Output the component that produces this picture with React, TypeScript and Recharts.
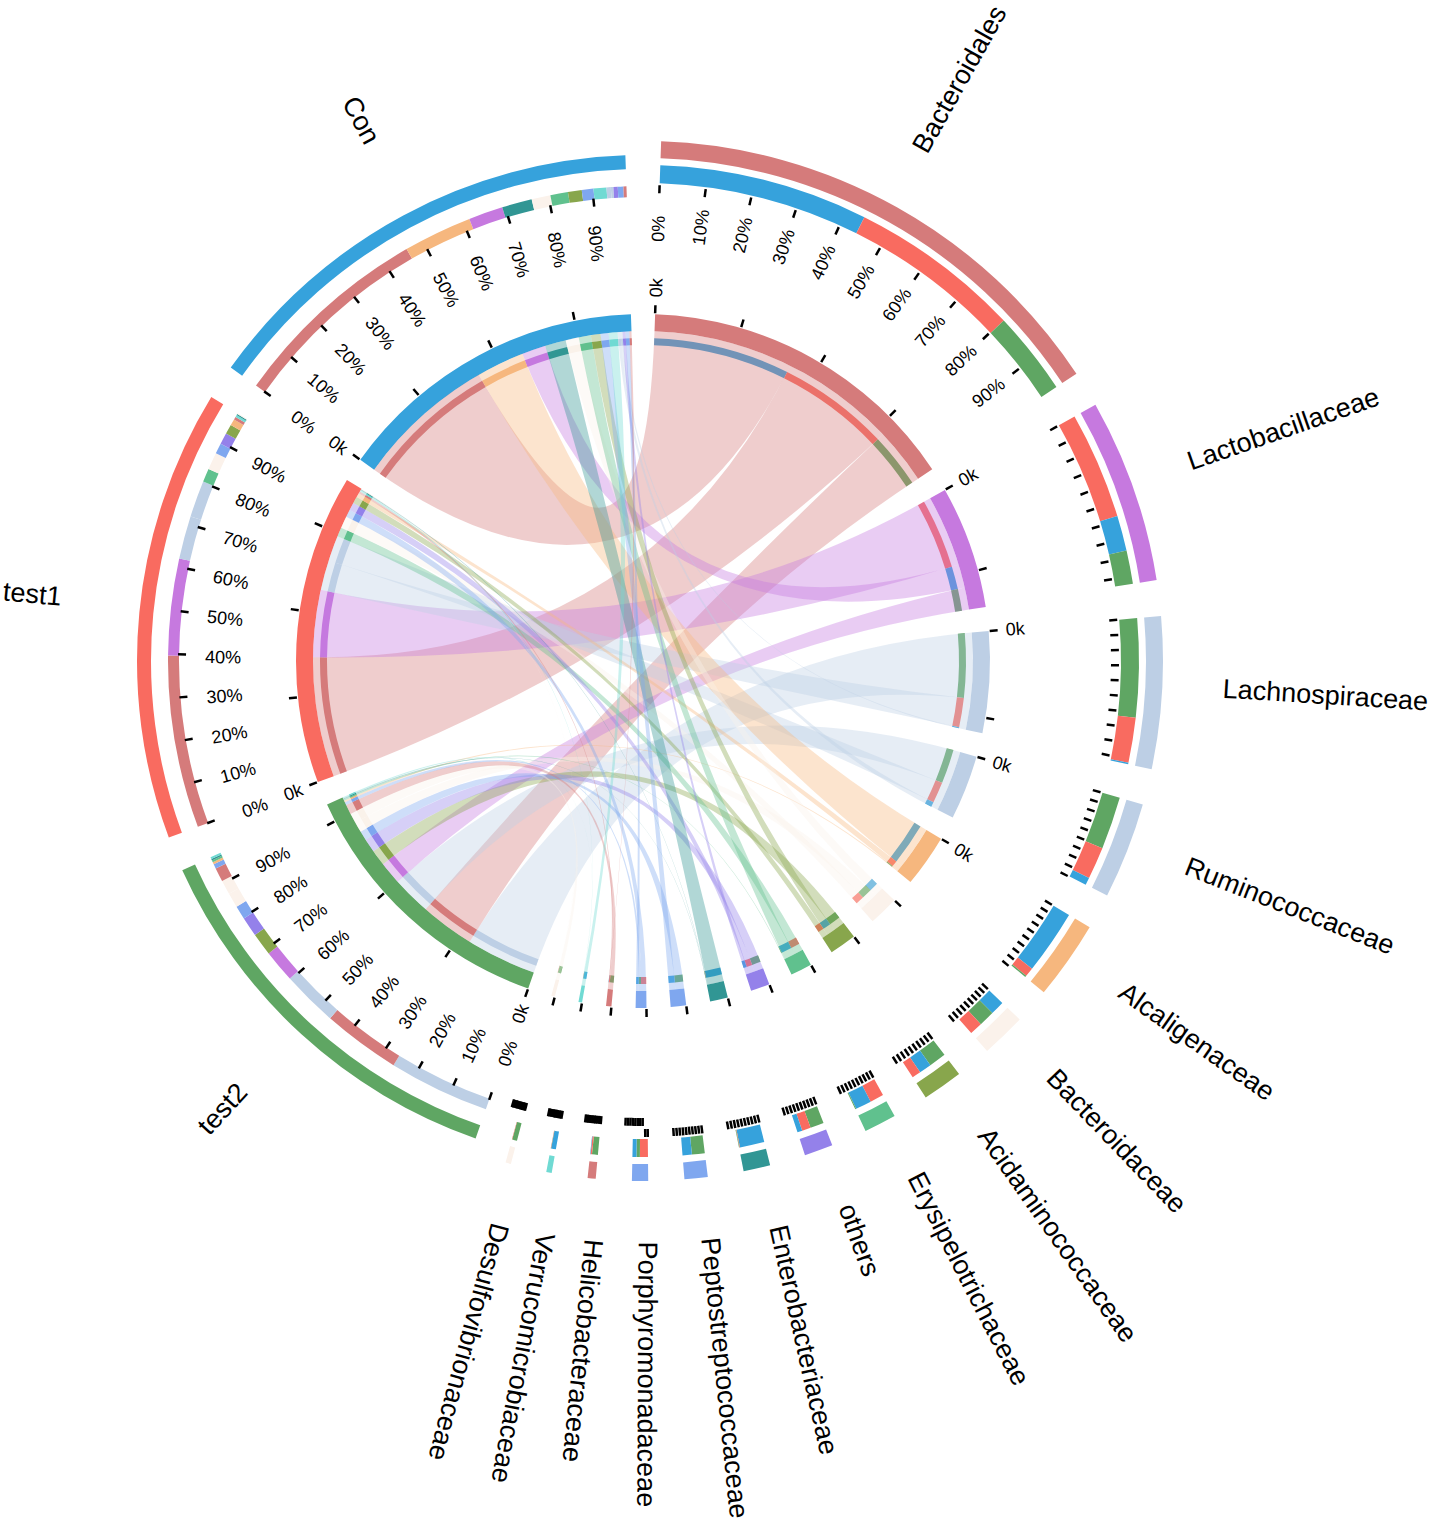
import React from "react";
import { PieChart, Pie } from "recharts";

const taxonNames = ["Bacteroidales","Lactobacillaceae","Lachnospiraceae","Ruminococcaceae","Alcaligenaceae","Bacteroidaceae","Acidaminococcaceae","Erysipelotrichaceae","others","Enterobacteriaceae","Peptostreptococcaceae","Porphyromonadaceae","Helicobacteraceae","Verrucomicrobiaceae","Desulfovibrionaceae"];
const taxonSizes = [3.785,1.43,1.18,0.75,0.61,0.347,0.3125,0.25,0.222,0.208,0.18,0.125,0.0625,0.042,0.042];
const taxonColors = ["#D57B7B","#C679DF","#BDCFE5","#BDCFE5","#F6B77E","#FBF2EB","#88A64C","#60C18E","#9481EA","#319694","#7FA7EF","#7FA7EF","#D57B7B","#70DAD3","#FBF2EB"];

const sampleNames = ["test2","test1","Con"];
const sampleSizes = [3.215,3.604,3.653];
const sampleColors = ["#5FA663","#F96B60","#36A2DC"];

const mixBacteroidales = [["Con",45],["test1",37],["test2",18]];
const mixLactobacillaceae = [["test1",61],["Con",20],["test2",19]];
const mixLachnospiraceae = [["test2",68],["test1",31],["Con",1]];
const mixRuminococcaceae = [["test2",57],["test1",35],["Con",8]];
const mixAlcaligenaceae = [["Con",86],["test1",12],["test2",2]];
const mixBacteroidaceae = [["Con",33],["test2",37],["test1",30]];
const mixAcidaminococcaceae = [["test2",45],["Con",32],["test1",23]];
const mixErysipelotrichaceae = [["test1",45],["Con",52],["test2",3]];
const mixOthers = [["test2",50],["test1",32],["Con",18]];
const mixEnterobacteriaceae = [["Con",96],["test1",2],["test2",2]];
const mixPeptostreptococcaceae = [["test2",58],["Con",42]];
const mixPorphyromonadaceae = [["test1",52],["test2",22],["Con",26]];
const mixHelicobacteraceae = [["test2",76],["test1",18],["Con",6]];
const mixVerrucomicrobiaceae = [["Con",92],["test2",4],["test1",4]];
const mixDesulfovibrionaceae = [["test2",94],["test1",6]];
const taxonMixes = [mixBacteroidales,mixLactobacillaceae,mixLachnospiraceae,mixRuminococcaceae,mixAlcaligenaceae,mixBacteroidaceae,mixAcidaminococcaceae,mixErysipelotrichaceae,mixOthers,mixEnterobacteriaceae,mixPeptostreptococcaceae,mixPorphyromonadaceae,mixHelicobacteraceae,mixVerrucomicrobiaceae,mixDesulfovibrionaceae];

const mixTest2 = [["Lachnospiraceae",26.8],["Bacteroidales",20.6],["Ruminococcaceae",14.8],["Lactobacillaceae",8.6],["Acidaminococcaceae",6],["others",5.2],["Peptostreptococcaceae",3.6],["Bacteroidaceae",3.9],["Desulfovibrionaceae",3.8],["Helicobacteraceae",3.7],["Porphyromonadaceae",1.2],["Alcaligenaceae",0.6],["Erysipelotrichaceae",0.5],["Enterobacteriaceae",0.4],["Verrucomicrobiaceae",0.5]];
const mixTest1 = [["Bacteroidales",41],["Lactobacillaceae",23],["Lachnospiraceae",10.2],["Ruminococcaceae",8.7],["Erysipelotrichaceae",3.2],["Bacteroidaceae",4.1],["Porphyromonadaceae",2.5],["others",2.7],["Acidaminococcaceae",2.3],["Alcaligenaceae",1.5],["Helicobacteraceae",0.7],["Verrucomicrobiaceae",0.5],["Enterobacteriaceae",0.3],["Desulfovibrionaceae",0.2]];
const mixCon = [["Bacteroidales",47],["Alcaligenaceae",16],["Lactobacillaceae",8],["Enterobacteriaceae",7],["Bacteroidaceae",4.4],["Erysipelotrichaceae",4.1],["Acidaminococcaceae",3.2],["Peptostreptococcaceae",2.7],["Verrucomicrobiaceae",3],["Ruminococcaceae",1],["Lachnospiraceae",0.6],["others",1],["Porphyromonadaceae",1.3],["Helicobacteraceae",0.7]];
const sampleMixes = [mixTest2,mixTest1,mixCon];

const percentLabels = ["0%","10%","20%","30%","40%","50%","60%","70%","80%","90%"];

const GAP = 4 / 14.4;
const FIRST = 2;
const CX = 643;
const CY = 661;
const FONT = "'Liberation Sans', Arial, sans-serif";
const colorOf: Record<string,string> = {};
taxonNames.forEach((n,i)=>{colorOf[n]=taxonColors[i];});
sampleNames.forEach((n,i)=>{colorOf[n]=sampleColors[i];});

type Sec = {name:string;size:number;color:string;mix:any[];isSample:boolean;a0:number;a1:number};
const secs: Sec[] = [
  ...taxonNames.map((name,i)=>({name,size:taxonSizes[i],color:taxonColors[i],mix:taxonMixes[i],isSample:false,a0:0,a1:0})),
  ...sampleNames.map((name,i)=>({name,size:sampleSizes[i],color:sampleColors[i],mix:sampleMixes[i],isSample:true,a0:0,a1:0})),
];
const unit = 360 / (secs.reduce((s,x)=>s+x.size,0) + GAP*secs.length);
{
  let a = FIRST;
  secs.forEach(s=>{ s.a0=a; s.a1=a+s.size*unit; a=s.a1+GAP*unit; });
}
const mixTotal = (s:Sec)=>s.mix.reduce((t:number,m:any)=>t+m[1],0);
const parts = (s:Sec)=>{
  const tot = mixTotal(s);
  return s.mix.map((m:any)=>({key:m[0],value:s.size*m[1]/tot,fill:colorOf[m[0]]}));
};
const segRange = (s:Sec,key:string)=>{
  const tot = mixTotal(s);
  let acc=0;
  for(const m of s.mix){
    const a=s.a0+(s.a1-s.a0)*acc/tot;
    acc+=m[1];
    const b=s.a0+(s.a1-s.a0)*acc/tot;
    if(m[0]===key) return [a,b];
  }
  return null;
};
const ring = (pick:(s:Sec)=>any[])=>secs.flatMap(s=>[...pick(s),{value:GAP,fill:"none"}]);
const blank = (s:Sec)=>[{value:s.size,fill:"none"}];

const bandAll = ring(s=>[{value:s.size,fill:s.color}]);
const thinAll = ring(parts);
const taxonBand = ring(s=>s.isSample?blank(s):[{value:s.size,fill:s.color}]);
const sampleBand = ring(s=>s.isSample?[{value:s.size,fill:s.color}]:blank(s));
const taxonStack = ring(s=>s.isSample?blank(s):parts(s));
const sampleStack = ring(s=>s.isSample?parts(s):blank(s));

const pol = (r:number,a:number)=>{
  const t=a*Math.PI/180;
  return [CX+r*Math.sin(t),CY-r*Math.cos(t)];
};
const R=330;
const ribbon=(s:number[],t:number[])=>{
  const p=(a:number)=>pol(R,a).map(v=>v.toFixed(2)).join(" ");
  return `M${p(s[0])}A${R} ${R} 0 0 1 ${p(s[1])}Q${CX} ${CY} ${p(t[0])}A${R} ${R} 0 0 1 ${p(t[1])}Q${CX} ${CY} ${p(s[0])}Z`;
};

const Chords = ()=>{
  const out:any[]=[];
  secs.filter(s=>s.isSample).forEach(s=>{
    s.mix.forEach((m:any)=>{
      const tx=secs.find(x=>x.name===m[0])!;
      const a=segRange(s,m[0]);
      const b=segRange(tx,s.name);
      if(a&&b) out.push(<path key={s.name+m[0]} d={ribbon(a,b)} fill={tx.color} fillOpacity={0.38} stroke="none"/>);
    });
  });
  return <g>{out}</g>;
};

const lineAt=(k:string,a:number,r0:number,r1:number)=>{
  const [x0,y0]=pol(r0,a);const [x1,y1]=pol(r1,a);
  return <line key={k} x1={x0} y1={y0} x2={x1} y2={y1} stroke="#000" strokeWidth={2.5}/>;
};
const radialText=(k:string,str:string,r:number,a:number,isSample:boolean,size:number,dy:number)=>{
  const [x,y]=pol(r,a);
  const rot=isSample?a-270:a-90;
  return <text key={k} x={x} y={y} dy={dy} textAnchor={isSample?"end":"start"} transform={`rotate(${rot} ${x} ${y})`} fontFamily={FONT} fontSize={size} fill="#000">{str}</text>;
};

const Annotations=()=>{
  const out:any[]=[];
  secs.forEach(s=>{
    const mid=(s.a0+s.a1)/2;
    for(let i=0;i<=Math.floor(s.size);i++){
      out.push(lineAt(`${s.name}k${i}`,s.a0+i*14.4,348,356));
    }
    if(s.size>=0.6) out.push(radialText(`${s.name}0k`,"0k",364,s.a0,s.isSample,18,s.isSample?7:6.3));
    const step=(s.a1-s.a0)/10+0.125;
    percentLabels.forEach((lab,i)=>{
      const a=s.a0+i*step;
      const low=s.isSample||a>=180;
      out.push(lineAt(`${s.name}p${i}`,a,low?457:468,low?465:476));
      if(s.isSample) out.push(radialText(`${s.name}l${i}`,lab,402,a,true,18,8.3));
      else if(s.name==="Bacteroidales") out.push(radialText(`${s.name}l${i}`,lab,419.5,a,false,18,6.3));
    });
    out.push(radialText(`${s.name}name`,s.name,s.isSample?585:580.5,mid,s.isSample,27,1));
  });
  return <g>{out}</g>;
};

export default function App(){
  const pie=(data:any[],r0:number,r1:number,key:string)=>(
    <Pie key={key} zIndex={0} data={data} dataKey="value" cx={CX} cy={CY} innerRadius={r0} outerRadius={r1}
      startAngle={90-FIRST} endAngle={90-FIRST-360} stroke="none" paddingAngle={0} isAnimationActive={false} legendType="none" label={false} labelLine={false}/>
  );
  return (
    <div style={{position:"absolute",left:0,top:0,width:1430,height:1521}}>
      <PieChart width={1430} height={1521} margin={{top:0,right:0,bottom:0,left:0}}>
        {pie(sampleBand,492,506,"a")}
        {pie(taxonBand,503,520,"b")}
        {pie(sampleStack,464,475,"c")}
        {pie(taxonStack,478,496,"d")}
        {pie(bandAll,330,347,"e")}
        {pie(thinAll,316,323,"f")}
        <Chords/>
        <Annotations/>
      </PieChart>
    </div>
  );
}
